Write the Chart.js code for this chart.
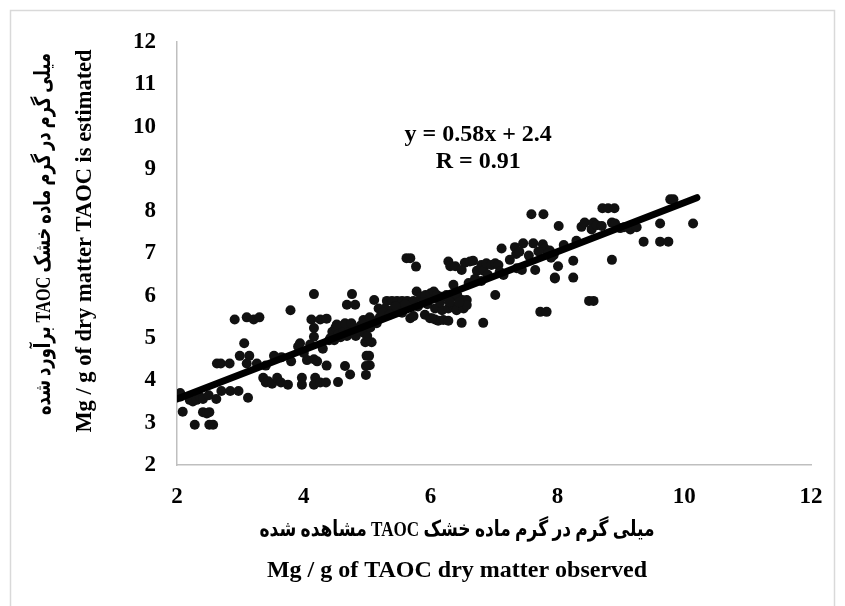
<!DOCTYPE html>
<html>
<head>
<meta charset="utf-8">
<script src="https://cdn.jsdelivr.net/npm/chart.js@4.4.1/dist/chart.umd.min.js"></script>
<style>
  html, body { margin: 0; padding: 0; background: #fff; }
  #wrap { width: 845px; height: 606px; position: relative; }
</style>
</head>
<body>
<div id="wrap"><canvas id="c"></canvas></div>
<script>
// ---- data (observed TAOC, estimated TAOC) ----
const observed = [
  2.05,2.09,2.06,2.20,2.25,2.31,2.36,2.41,2.41,2.47,2.51,2.28,2.51,2.57,2.62,2.50,2.63,2.69,2.83,2.70,2.84,2.97,2.99,3.14,3.06,3.10,3.12,2.91,3.10,3.21,3.30,3.26,
  3.53,3.79,3.91,3.94,3.36,3.40,3.44,3.50,3.58,3.64,3.75,3.97,3.97,4.18,4.16,4.26,4.35,4.05,4.16,4.21,4.36,4.12,4.26,4.36,4.16,4.16,4.16,4.00,4.10,3.65,3.40,3.80,
  4.45,4.50,4.55,4.60,4.62,4.68,4.72,4.78,4.85,4.90,4.52,4.58,4.65,4.75,4.82,4.95,4.42,4.48,4.68,4.81,4.76,4.94,5.04,4.97,5.07,5.00,4.99,5.03,5.04,4.98,4.65,4.73,4.54,4.98,4.40,4.30,
  5.11,5.18,5.28,5.31,5.39,5.39,5.47,5.47,5.55,5.57,5.63,5.68,5.73,5.73,5.78,5.91,5.99,6.07,6.12,6.02,6.20,6.28,5.85,5.92,6.00,6.05,6.10,6.18,6.25,6.35,6.42,6.50,6.57,6.07,6.18,6.28,6.36,6.41,6.52,6.57,6.36,6.49,6.83,5.62,5.68,5.77,5.20,5.25,5.35,5.45,5.55,5.60,5.80,5.88,5.95,6.15,6.30,6.45,5.15,5.05,5.12,
  6.28,6.31,6.39,6.54,6.62,6.67,6.49,6.73,6.80,6.84,6.88,6.96,7.02,7.07,7.09,7.15,7.02,6.60,6.70,6.80,6.90,
  7.12,7.33,7.46,7.35,7.40,7.62,7.77,7.80,7.88,7.94,7.36,7.44,7.65,7.96,7.73,7.83,7.59,7.78,7.85,7.90,7.25,7.55,7.70,
  8.02,8.01,8.25,8.25,7.96,8.50,8.57,8.38,8.43,8.57,8.54,8.62,8.70,8.86,8.91,8.99,9.15,9.25,8.71,8.80,8.90,8.86,9.36,9.62,9.75,9.62,9.78,9.83,10.14,9.05,8.30,8.10
];
const estimated = [
  3.70,3.26,3.62,3.54,3.50,3.54,3.62,3.56,3.25,3.22,3.25,2.95,2.95,2.95,3.56,3.65,4.40,4.40,4.40,3.75,3.75,3.75,4.58,4.58,4.88,4.40,3.59,5.44,5.49,5.44,5.49,4.40,
  4.58,5.66,4.80,4.88,4.06,3.95,3.98,3.92,4.06,3.95,3.90,4.06,3.90,4.06,3.90,3.95,3.95,4.48,4.50,4.45,4.35,5.44,5.44,5.46,5.24,5.03,6.04,4.65,4.85,4.55,4.35,4.45,
  5.15,5.25,5.10,5.28,5.18,5.05,5.25,5.15,5.22,5.30,5.32,5.02,5.35,5.35,5.05,5.12,5.00,4.95,5.79,5.79,6.04,5.43,5.49,4.90,4.90,5.05,4.58,4.58,4.36,4.13,4.34,4.14,3.96,4.34,4.95,4.75,
  5.90,5.70,5.70,5.88,5.88,5.66,5.70,5.88,5.88,5.73,5.88,5.47,5.52,5.88,6.10,5.55,5.47,5.44,5.41,5.47,5.43,5.41,5.98,6.02,6.06,6.10,6.02,5.98,6.02,5.98,6.02,5.90,5.90,5.70,5.66,5.70,5.74,5.66,5.70,5.78,6.26,5.36,5.36,6.89,6.89,6.69,5.50,5.60,5.55,5.75,5.60,5.80,5.75,5.85,5.80,5.85,5.85,5.85,5.35,5.25,5.40,
  6.81,6.70,6.70,6.78,6.81,6.83,6.61,6.59,6.73,6.59,6.77,6.73,6.77,6.73,6.57,6.49,6.02,6.30,6.40,6.35,6.50,
  7.12,7.15,7.24,6.99,7.04,7.24,7.22,7.12,7.07,6.96,6.65,6.61,6.61,6.41,5.62,5.62,7.93,7.93,7.00,6.90,6.85,6.95,7.05,
  7.65,6.70,6.83,6.43,6.43,5.88,5.88,7.63,7.73,7.73,7.57,7.67,7.65,7.73,7.71,7.60,7.57,7.62,8.07,8.07,8.07,6.85,7.28,7.28,7.28,7.71,8.28,8.28,7.71,7.62,7.30,7.20
];
const trendX = [2.0, 10.2];
const trendY = [3.56, 8.32];
const xTicks = [2, 4, 6, 8, 10, 12];
const yTicks = [2, 3, 4, 5, 6, 7, 8, 9, 10, 11, 12];
const equationText = ["y = 0.58x + 2.4", "R = 0.91"];
const xTitleFa = "میلی گرم در گرم ماده خشک TAOC مشاهده شده";
const xTitleEn = "Mg / g of TAOC dry matter observed";
const yTitleFa = "میلی گرم در گرم ماده خشک TAOC برآورد شده";
const yTitleEn = "Mg / g of dry matter TAOC is estimated";

const FONT = "'Liberation Serif', 'Times New Roman', serif";
const FONT_FA = "'Liberation Serif', 'DejaVu Sans', serif";

const points = observed.map((x, i) => ({ x: x, y: estimated[i] }));
const trend = trendX.map((x, i) => ({ x: x, y: trendY[i] }));

const frame = {
  id: 'frame',
  beforeDraw(chart) {
    const ctx = chart.ctx;
    ctx.save();
    ctx.strokeStyle = '#d9d9d9';
    ctx.lineWidth = 1.5;
    ctx.beginPath();
    ctx.moveTo(10.5, 620); ctx.lineTo(10.5, 10.5); ctx.lineTo(834.5, 10.5); ctx.lineTo(834.5, 620);
    ctx.stroke();
    ctx.restore();
  }
};

const equation = {
  id: 'equation',
  afterDatasetsDraw(chart, args, opts) {
    const ctx = chart.ctx;
    const xs = chart.scales.x, ys = chart.scales.y;
    ctx.save();
    ctx.font = 'bold 24px ' + FONT;
    ctx.fillStyle = '#000';
    ctx.textAlign = 'center';
    ctx.textBaseline = 'middle';
    opts.lines.forEach((t, i) => {
      ctx.fillText(t, xs.getPixelForValue(opts.x), ys.getPixelForValue(opts.y[i]));
    });
    ctx.restore();
  }
};

// axis titles: each line drawn with its own font / direction
const axisTitles = {
  id: 'axisTitles',
  afterDraw(chart, args, opts) {
    const ctx = chart.ctx;
    opts.items.forEach(it => {
      ctx.save();
      ctx.translate(it.cx, it.cy);
      if (it.rotate) ctx.rotate(-Math.PI / 2);
      ctx.font = 'bold ' + it.size + 'px ' + it.family;
      ctx.direction = it.rtl ? 'rtl' : 'ltr';
      ctx.textAlign = 'center';
      ctx.textBaseline = 'middle';
      ctx.fillStyle = '#000';
      if (it.fitWidth) {
        const w = ctx.measureText(it.text).width;
        ctx.scale(it.fitWidth / w, 1);
      }
      ctx.fillText(it.text, 0, 0);
      ctx.restore();
    });
  }
};

new Chart(document.getElementById('c'), {
  type: 'scatter',
  data: {
    datasets: [
      {
        label: 'TAOC',
        data: points,
        backgroundColor: '#111',
        borderColor: '#111',
        pointRadius: 5,
        pointBorderWidth: 0,
        order: 2
      },
      {
        type: 'line',
        label: 'fit',
        data: trend,
        borderColor: '#000',
        borderWidth: 7,
        borderCapStyle: 'round',
        pointRadius: 0,
        fill: false,
        order: 1
      }
    ]
  },
  options: {
    responsive: true,
    maintainAspectRatio: false,
    animation: false,
    layout: { padding: { left: 10, right: 34, top: 42, bottom: 0 } },
    plugins: {
      legend: { display: false },
      tooltip: { enabled: false },
      equation: { lines: equationText, x: 6.75, y: [9.80, 9.16] },
      axisTitles: {
        items: [
          { text: xTitleFa, cx: 457, cy: 530, size: 22, family: FONT_FA, rtl: true, fitWidth: 395 },
          { text: xTitleEn, cx: 457, cy: 571, size: 24, family: FONT },
          { text: yTitleFa, cx: 44, cy: 234, size: 22, family: FONT_FA, rtl: true, rotate: true, fitWidth: 362 },
          { text: yTitleEn, cx: 85, cy: 241, size: 22.5, family: FONT, rotate: true }
        ]
      }
    },
    scales: {
      x: {
        type: 'linear',
        min: 2, max: 12,
        afterBuildTicks: (s) => { s.ticks = xTicks.map(v => ({ value: v })); },
        afterFit: (s) => { s.height = 141; },
        grid: { display: true, drawOnChartArea: false, drawTicks: false },
        border: { display: true, color: '#bfbfbf', width: 1.5 },
        ticks: { padding: 18, color: '#000', font: { family: FONT, size: 23, weight: 'bold' } }
      },
      y: {
        type: 'linear',
        min: 2, max: 12,
        afterBuildTicks: (s) => { s.ticks = yTicks.map(v => ({ value: v })); },
        afterFit: (s) => { s.width = 167; },
        grid: { display: true, drawOnChartArea: false, drawTicks: false },
        border: { display: true, color: '#bfbfbf', width: 1.5 },
        ticks: { padding: 21, color: '#000', font: { family: FONT, size: 23, weight: 'bold' } }
      }
    }
  },
  plugins: [frame, equation, axisTitles]
});
</script>
</body>
</html>
